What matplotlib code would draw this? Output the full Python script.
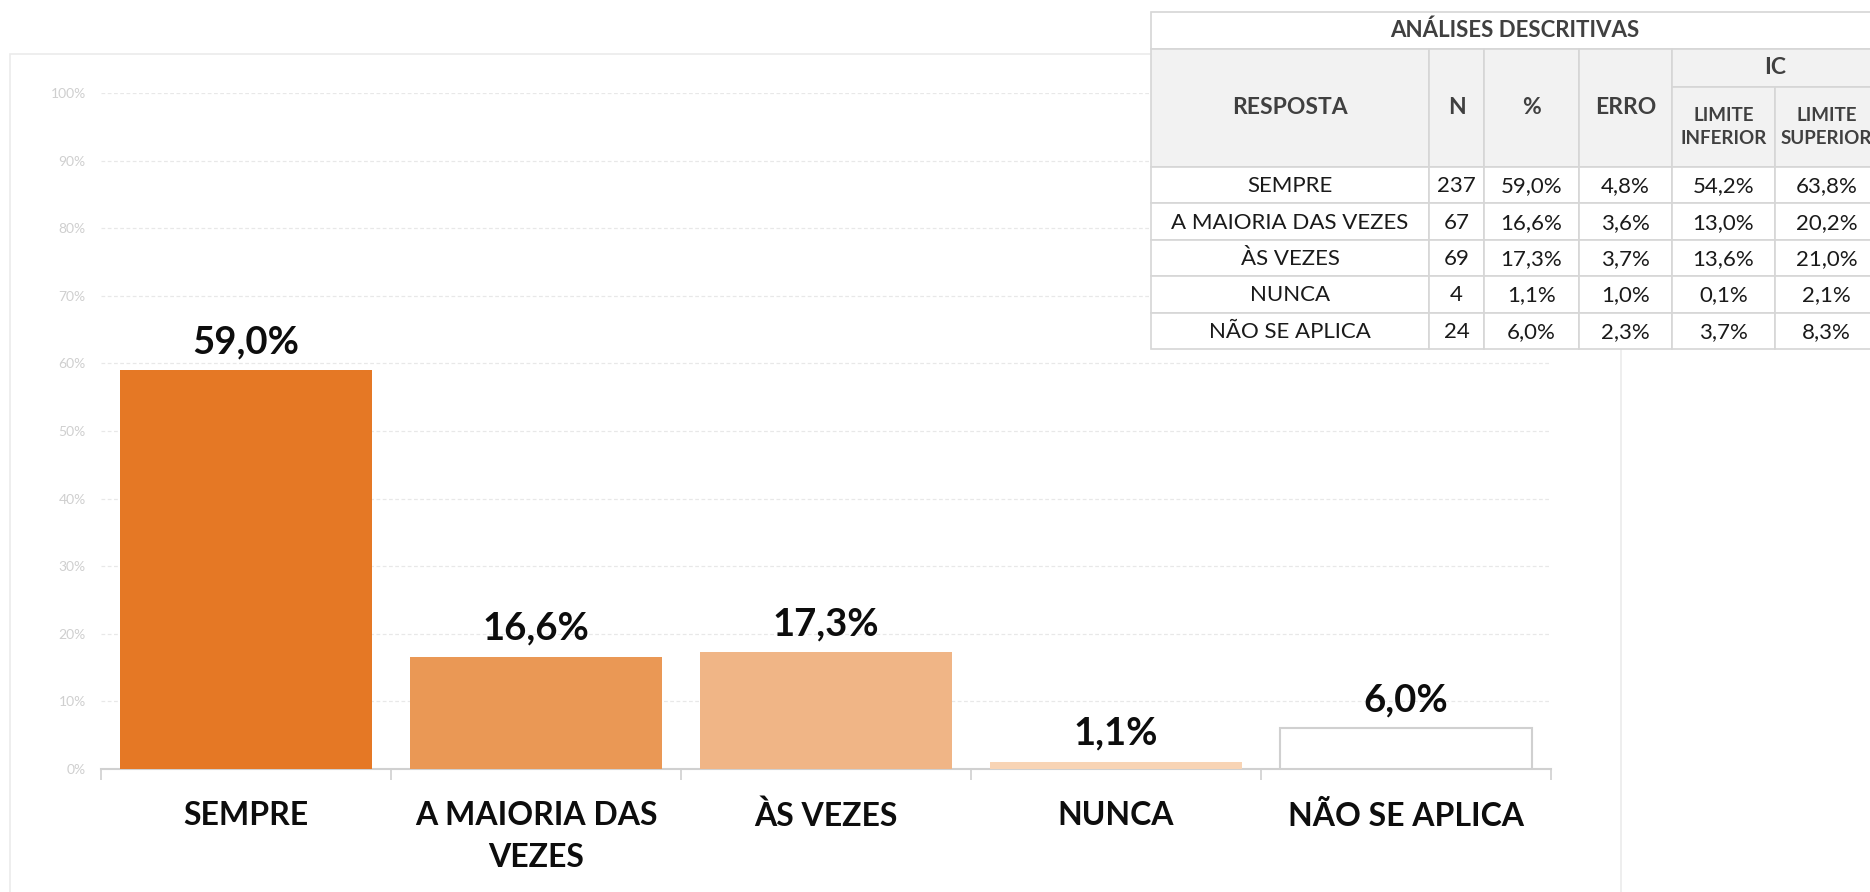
import matplotlib
matplotlib.use('Agg')
import matplotlib.pyplot as plt
from matplotlib.patches import Rectangle
from matplotlib.ticker import PercentFormatter

plt.rcParams['font.family'] = ['Lato', 'DejaVu Sans']

# dados do grafico
categorias = ['SEMPRE', 'A MAIORIA DAS\nVEZES', 'ÀS VEZES', 'NUNCA', 'NÃO SE APLICA']
percentuais = [59.0, 16.6, 17.3, 1.1, 6.0]
cores = ['#E57825', '#EA9855', '#F0B586', '#F8D4B5', '#FFFFFF']
bordas = ['none', 'none', 'none', 'none', '#D0D0D0']

# dados da tabela
tab_resposta = ['SEMPRE', 'A MAIORIA DAS VEZES', 'ÀS VEZES', 'NUNCA', 'NÃO SE APLICA']
tab_n = [237, 67, 69, 4, 24]
tab_pct = [59.0, 16.6, 17.3, 1.1, 6.0]
tab_erro = [4.8, 3.6, 3.7, 1.0, 2.3]
tab_lim_inf = [54.2, 13.0, 13.6, 0.1, 3.7]
tab_lim_sup = [63.8, 20.2, 21.0, 2.1, 8.3]

W, H = 1870, 892


def fmt(v):
    return f'{v:.1f}%'.replace('.', ',')


def fx(x):
    return x / W


def fy(y):
    return 1 - y / H


fig = plt.figure(figsize=(W / 100, H / 100), dpi=100)

# moldura do grafico
fig.add_artist(Rectangle((fx(10), fy(905)), fx(1621 - 10), (905 - 54) / H,
                         transform=fig.transFigure, facecolor='none',
                         edgecolor='#EBEBEB', lw=1.2))

ax = fig.add_axes([fx(101), fy(769), fx(1450), 676 / H])
x = list(range(len(categorias)))
ax.bar(x, [p / 100 for p in percentuais], width=0.87, color=cores,
       edgecolor=bordas, linewidth=1.5, zorder=3)
for i, p in enumerate(percentuais):
    ax.annotate(fmt(p), (i, p / 100), xytext=(0, 17), textcoords='offset pixels',
                ha='center', va='baseline', fontsize=27.5, fontweight='bold',
                color='#0D0D0D')

ax.set_xlim(-0.5, 4.5)
ax.set_ylim(0, 1)
ax.set_yticks([i / 10 for i in range(11)])
ax.yaxis.set_major_formatter(PercentFormatter(1.0, decimals=0))
ax.grid(axis='y', color='#E8E8E8', lw=0.9, ls=(0, (3, 2)), zorder=0)
ax.tick_params(axis='y', length=0, pad=11, labelcolor='#CFCFCF', labelsize=10)
ax.set_xticks(x)
ax.set_xticklabels(categorias, fontsize=23, fontweight='bold', color='#0D0D0D',
                   linespacing=1.55)
ax.tick_params(axis='x', which='major', length=0, pad=23)
ax.set_xticks([i - 0.5 for i in range(len(categorias) + 1)], minor=True)
ax.tick_params(axis='x', which='minor', length=8, width=1.2, color='#D0D0D0')
for s in ['top', 'right', 'left']:
    ax.spines[s].set_visible(False)
ax.spines['bottom'].set_color('#D0D0D0')
ax.spines['bottom'].set_linewidth(1.5)

# tabela de analises descritivas
col_x = [1151, 1429, 1484, 1579, 1672, 1775, 1878]
top, title_b, ic_b, head_b = 12, 49, 87, 167
row_h = 36.4
borda = '#D6D6D6'
txt_head = '#404040'
txt_dado = '#1A1A1A'


def cell(x0, y0, x1, y1, fc):
    fig.add_artist(Rectangle((fx(x0), fy(y1)), fx(x1 - x0), (y1 - y0) / H,
                             transform=fig.transFigure, facecolor=fc,
                             edgecolor=borda, lw=1.2, clip_on=False))


def texto(xc, yc, s, **kw):
    fig.text(fx(xc), fy(yc), s, ha='center', va='center', **kw)


cell(col_x[0], top, col_x[-1], title_b, '#FFFFFF')
texto((col_x[0] + col_x[-1]) / 2, (top + title_b) / 2, 'ANÁLISES DESCRITIVAS',
      fontsize=16, fontweight='bold', color=txt_head)

for j, nome in enumerate(['RESPOSTA', 'N', '%', 'ERRO']):
    cell(col_x[j], title_b, col_x[j + 1], head_b, '#F2F2F2')
    texto((col_x[j] + col_x[j + 1]) / 2, (title_b + head_b) / 2, nome,
          fontsize=16.5, fontweight='bold', color=txt_head)
cell(col_x[4], title_b, col_x[6], ic_b, '#F2F2F2')
texto((col_x[4] + col_x[6]) / 2, (title_b + ic_b) / 2, 'IC',
      fontsize=16.5, fontweight='bold', color=txt_head)
for j, nome in [(4, 'LIMITE\nINFERIOR'), (5, 'LIMITE\nSUPERIOR')]:
    cell(col_x[j], ic_b, col_x[j + 1], head_b, '#F2F2F2')
    texto((col_x[j] + col_x[j + 1]) / 2, (ic_b + head_b) / 2, nome,
          fontsize=13.5, fontweight='bold', color=txt_head, linespacing=1.45)

linhas = zip(tab_resposta, tab_n, tab_pct, tab_erro, tab_lim_inf, tab_lim_sup)
for r, (resp, n, pct, erro, li, ls) in enumerate(linhas):
    y0 = head_b + r * row_h
    y1 = y0 + row_h
    valores = [resp, str(n), fmt(pct), fmt(erro), fmt(li), fmt(ls)]
    for j, v in enumerate(valores):
        cell(col_x[j], y0, col_x[j + 1], y1, '#FFFFFF')
        texto((col_x[j] + col_x[j + 1]) / 2, (y0 + y1) / 2 + 1, v,
              fontsize=16, color=txt_dado)

fig.savefig('out.png', dpi=100, facecolor='white')
